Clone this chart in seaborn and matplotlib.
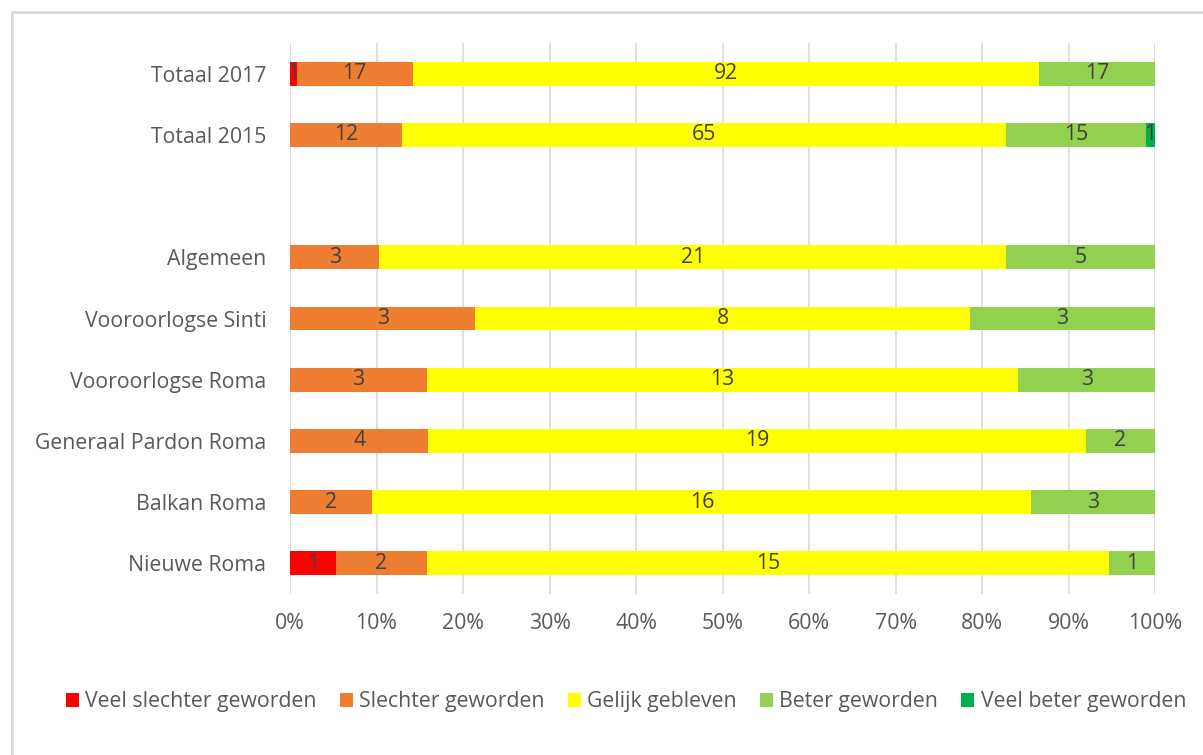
import matplotlib
matplotlib.use("Agg")
import matplotlib.pyplot as plt
from matplotlib.patches import Rectangle, Patch
from matplotlib.ticker import FuncFormatter, MultipleLocator
import seaborn as sns
import pandas as pd
import numpy as np

categories = ["Totaal 2017", "Totaal 2015", " ", "Algemeen", "Vooroorlogse Sinti",
              "Vooroorlogse Roma", "Generaal Pardon Roma", "Balkan Roma", "Nieuwe Roma"]
series = ["Veel slechter geworden", "Slechter geworden", "Gelijk gebleven",
          "Beter geworden", "Veel beter geworden"]
veel_slechter = [1, 0, 0, 0, 0, 0, 0, 0, 1]
slechter = [17, 12, 0, 3, 3, 3, 4, 2, 2]
gelijk = [92, 65, 0, 21, 8, 13, 19, 16, 15]
beter = [17, 15, 0, 5, 3, 3, 2, 3, 1]
veel_beter = [0, 1, 0, 0, 0, 0, 0, 0, 0]
colors = ["#FF0000", "#ED7D31", "#FFFF00", "#92D050", "#00B050"]

sns.set_theme(style="white")
plt.rcParams["font.family"] = ["Open Sans", "DejaVu Sans"]

FS = 15.3

counts = pd.DataFrame({s: v for s, v in zip(series, [veel_slechter, slechter, gelijk, beter, veel_beter])},
                      index=categories)
totals = counts.sum(axis=1).replace(0, np.nan)
pct = counts.div(totals, axis=0).fillna(0) * 100
cum = pct.cumsum(axis=1)

fig = plt.figure(figsize=(12.03, 7.55), dpi=100)
ax = fig.add_axes([290/1203, 1 - 594/755, (1155-290)/1203, (594-43)/755])

for i in range(len(series) - 1, -1, -1):
    s = series[i]
    df = pd.DataFrame({"cat": categories, "val": cum[s].values})
    sns.barplot(data=df, x="val", y="cat", order=categories, color=colors[i],
                orient="h", width=0.39, ax=ax, saturation=1, zorder=2,
                linewidth=0, edgecolor="none")

for r, cat in enumerate(categories):
    prev = 0.0
    for s in series:
        p = pct.loc[cat, s]
        n = counts.loc[cat, s]
        if n > 0:
            ax.text(prev + p / 2, r, str(n), ha="center", va="center",
                    fontsize=FS, color="#404040", zorder=5, clip_on=False)
        prev += p

ax.set_xlim(0, 100)
ax.set_ylim(len(categories) - 0.5, -0.5)
ax.xaxis.set_major_locator(MultipleLocator(10))
ax.xaxis.set_major_formatter(FuncFormatter(lambda v, _: f"{int(round(v))}%"))
ax.grid(axis="x", color="#D9D9D9", linewidth=1.2, zorder=0)
ax.grid(axis="y", visible=False)
ax.set_axisbelow(True)
for sp in ax.spines.values():
    sp.set_visible(False)
ax.set_xlabel("")
ax.set_ylabel("")
ax.tick_params(axis="both", length=0, labelsize=FS, labelcolor="#595959")
ax.tick_params(axis="x", pad=14)
ax.tick_params(axis="y", pad=17)

handles = [Patch(facecolor=c, edgecolor="none") for c in colors]
fig.legend(handles, series, loc="center", bbox_to_anchor=(626/1203, 1 - 702/755),
           ncol=5, frameon=False, fontsize=FS, labelcolor="#595959",
           handlelength=0.6, handleheight=0.6, handletextpad=0.3, columnspacing=1.1)

fig.add_artist(Rectangle((12/1203, -0.1), 1.2, 1 - 12/755 + 0.1, transform=fig.transFigure,
                         fill=False, edgecolor="#D9D9D9", linewidth=2))

fig.savefig("out.png", dpi=100)
